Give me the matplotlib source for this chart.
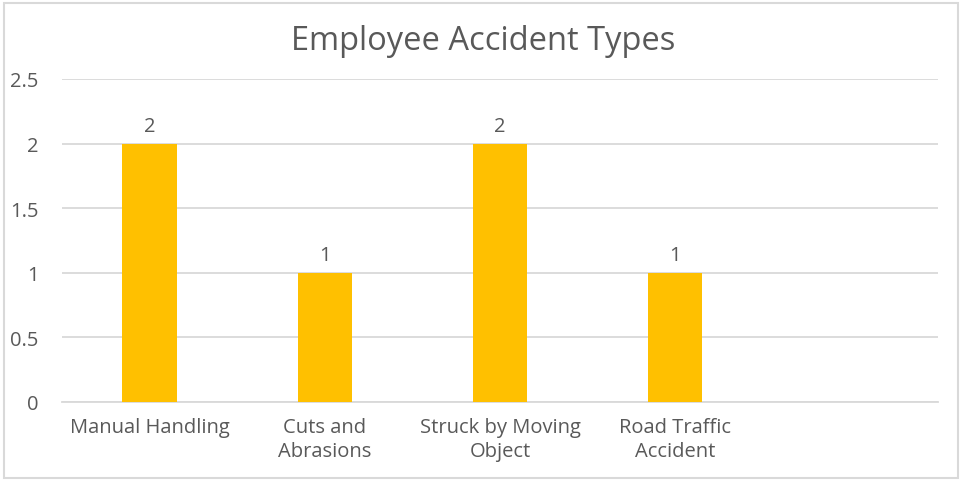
import matplotlib
matplotlib.use("Agg")
import matplotlib.pyplot as plt
from matplotlib.patches import Rectangle

categories = ["Manual Handling", "Cuts and\nAbrasions", "Struck by Moving\nObject", "Road Traffic\nAccident", ""]
values = [2, 1, 2, 1, None]
yticks = [0, 0.5, 1, 1.5, 2, 2.5]
ytick_labels = ["0", "0.5", "1", "1.5", "2", "2.5"]
title = "Employee Accident Types"

plt.rcParams['font.family'] = ['Open Sans', 'DejaVu Sans']
TXT = "#595959"
GRID = "#d9d9d9"
BAR = "#ffc000"

W, H = 962, 481
fig = plt.figure(figsize=(W / 100, H / 100), dpi=100)
fig.patches.append(Rectangle((4 / W, 2 / H), 954 / W, 475 / H, transform=fig.transFigure,
                             fill=False, edgecolor=GRID, linewidth=1.5))

ax = fig.add_axes([62 / W, 1 - 403 / H, (938 - 62) / W, (403 - 80) / H])
xs = list(range(len(categories)))
bx = [x for x, v in zip(xs, values) if v is not None]
bv = [v for v in values if v is not None]
bars = ax.bar(bx, bv, width=0.31, color=BAR, zorder=3)
for x, v in zip(bx, bv):
    ax.annotate(f"{v:g}", (x, v), xytext=(0, 5.5), textcoords="offset points",
                ha="center", va="bottom", fontsize=14.5, color=TXT)

ax.set_xlim(-0.5, len(categories) - 0.5)
ax.set_ylim(0, 2.5)
ax.set_yticks(yticks)
ax.set_yticklabels(ytick_labels)
ax.set_xticks(xs)
ax.set_xticklabels(categories, linespacing=1.25)
ax.tick_params(axis="both", length=0, colors=TXT, labelsize=14.5)
ax.tick_params(axis="y", pad=17)
ax.tick_params(axis="x", pad=11)
ax.yaxis.grid(True, color=GRID, linewidth=1.3, zorder=0)
for s in ["top", "right", "left"]:
    ax.spines[s].set_visible(False)
ax.spines["bottom"].set_color(GRID)
ax.spines["bottom"].set_linewidth(1.3)

fig.text(483 / W, 1 - 42 / H, title, ha="center", va="center", fontsize=23.5, color=TXT)

fig.savefig("out.png", dpi=100)
